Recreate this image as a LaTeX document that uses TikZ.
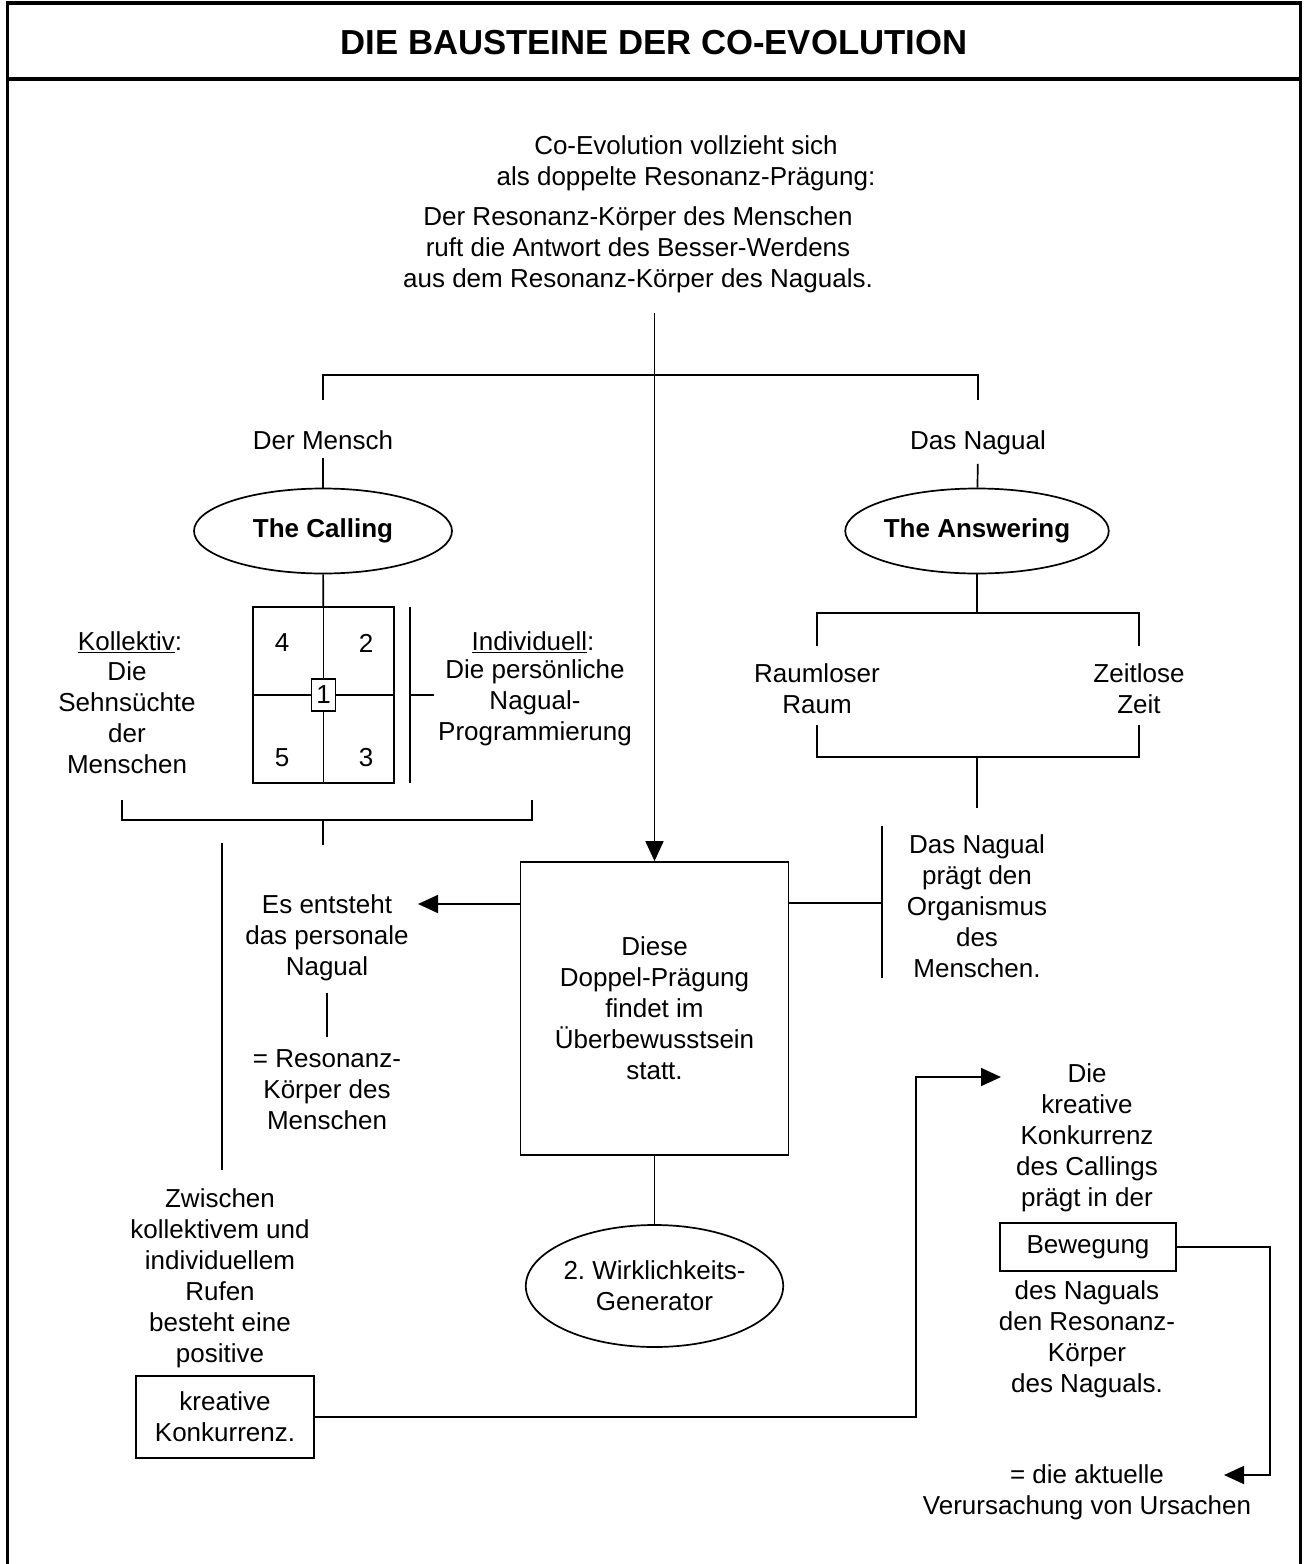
\documentclass[tikz,border=0pt]{standalone}
\usepackage{fontspec}
\setmainfont{Liberation Sans}
\usetikzlibrary{arrows.meta,shapes.geometric,calc}
\frenchspacing

\begin{document}
\begin{tikzpicture}[x=1pt,y=-1pt,line width=1.7pt,
  txt/.style={font=\fontsize{26}{31}\selectfont, align=center, inner sep=0pt},
  boldtxt/.style={font=\bfseries\fontsize{26}{31}\selectfont, align=center, inner sep=0pt},
  framed/.style={txt, draw},
  oval/.style={ellipse, draw, inner sep=0pt},
  arr/.style={-{Triangle[length=20pt,width=18pt]}},
  frameline/.style={line width=3.5pt}
  ]
\useasboundingbox (0,0) rectangle (1308,1564);

% outer frame and title bar
\draw[frameline] (7.7,1564) -- (7.7,3) -- (1300.5,3) -- (1300.5,1564);
\draw[frameline] (7.7,79) -- (1300.5,79);
\node[font=\bfseries\fontsize{34.7}{40}\selectfont, inner sep=0pt] (title) at (654,43) {DIE BAUSTEINE DER CO-EVOLUTION};

% introduction
\node[txt] (intro) at (686,163) {Co-Evolution vollzieht sich\\als doppelte Resonanz-Prägung:};
\node[txt] (resonanz) at (638,250) {Der Resonanz-Körper des Menschen\\ruft die Antwort des Besser-Werdens\\aus dem Resonanz-Körper des Naguals.};
\coordinate (stem) at (654.5,313);

% central box
\node[framed, minimum width=268pt, minimum height=293pt] (dbox) at (654.5,1008.5) {Diese\\Doppel-Prägung\\findet im\\Überbewusstsein\\statt.};
\draw[arr] (stem) -- (dbox.north);

% top bracket
\coordinate (tbL) at (323,400);
\coordinate (tbR) at (978,400);
\draw (tbL) -- ++(0,-25) -| (tbR);
\node[txt] (mensch) at (323,440) {Der Mensch};
\node[txt] (nagual) at (978,443) {Das Nagual};

% the calling
\node[oval, boldtxt, minimum width=258pt, minimum height=85pt] (calling) at (323,531) {The Calling};
\draw[shorten <=8pt] (mensch) -- (calling);

\node[draw, minimum width=141pt, minimum height=176pt, inner sep=0pt] (grid) at (323.5,695) {};
\draw (grid.north) -- (grid.south);
\draw (grid.west) -- (grid.east);
\node[framed, fill=white, minimum width=24pt, minimum height=32pt] (q1) at (grid.center) {1};
\node[txt] (q4) at (282,643) {4};
\node[txt] (q2) at (366,643) {2};
\node[txt] (q5) at (282,758) {5};
\node[txt] (q3) at (366,758) {3};
\draw (calling) -- (grid);

\node[txt] (koll) at (130,642) {\underline{Kollektiv}:};
\node[txt] (sehn) at (127,718) {Die\\Sehnsüchte\\der\\Menschen};
\node[txt] (indiv) at (533,642) {\underline{Individuell}:};
\node[txt] (prog) at (535,703) {Die persönliche\\Nagual-\\Programmierung};

\coordinate (barT) at (410,607);
\coordinate (barB) at (410,783);
\draw (barT) -- (barB);
\draw ($(barT)!0.5!(barB)$) -- ++(24,0);

% lower left bracket
\coordinate (lbL) at (122,800);
\coordinate (lbR) at (532,800);
\coordinate (lbM) at (323,820);
\draw (lbL) -- ++(0,20) -| (lbR);
\draw (lbM) -- ++(0,25);

% the answering
\node[oval, boldtxt, minimum width=256pt, minimum height=85pt] (answering) at (977,531) {The Answering};
\draw[shorten <=8pt] (nagual) -- (answering);
\coordinate (abar) at (977,613);
\draw (answering) -- (abar);
\coordinate (raumT) at (817,646);
\coordinate (zeitT) at (1139,646);
\draw (raumT) -- ++(0,-33) -| (zeitT);
\node[txt] (raum) at (817,689) {Raumloser\\Raum};
\node[txt] (zeit) at (1139,689) {Zeitlose\\Zeit};
\coordinate (raumB) at (817,725);
\coordinate (zeitB) at (1139,725);
\draw (raumB) -- ++(0,32) -| (zeitB);
\coordinate (rzM) at (977,757);
\draw (rzM) -- ++(0,51);

% the nagual shapes the organism
\coordinate (nbT) at (882,826);
\coordinate (nbB) at (882,978);
\coordinate (nbM) at (882,903);
\draw (nbT) -- (nbB);
\draw (nbM) -- (nbM -| dbox.east);
\node[txt] (organ) at (977,906) {Das Nagual\\prägt den\\Organismus\\des\\Menschen.};

% personal nagual
\coordinate (esTip) at (418,904);
\draw[arr] (esTip -| dbox.west) -- (esTip);
\node[txt] (es) at (327,938) {Es entsteht\\das personale\\Nagual};
\node[txt] (eq) at (327,1090) {= Resonanz-\\Körper des\\Menschen};
\draw[shorten <=11pt, shorten >=12pt] (es.south) -- (eq.north);

% reality generator
\node[oval, txt, minimum width=244pt, minimum height=122pt] (gen) at (654.5,1286) {2. Wirklichkeits-\\Generator};
\draw (dbox) -- (gen);

% creative competition
\coordinate (llT) at (222,843);
\coordinate (llB) at (222,1170);
\draw (llT) -- (llB);
\node[txt] (zw) at (220,1278) {Zwischen\\kollektivem und\\individuellem\\Rufen\\besteht eine\\positive};
\node[framed, minimum width=178pt, minimum height=82pt] (kk) at (225,1417) {kreative\\Konkurrenz.};

\coordinate (kkTurn) at (916,1077);
\coordinate (dkTip) at (1001,1077);
\draw[arr] (kk.east) -| (kkTurn) -- (dkTip);
\node[txt] (dk) at (1087,1138) {Die\\kreative\\Konkurrenz\\des Callings\\prägt in der};
\node[framed, minimum width=176pt, minimum height=48pt] (bew) at (1088,1247) {Bewegung};
\node[txt] (dn) at (1087,1339) {des Naguals\\den Resonanz-\\Körper\\des Naguals.};

\coordinate (bewTurn) at (1270,1475);
\coordinate (urTip) at (1224,1475);
\draw[arr] (bew.east) -| (bewTurn) -- (urTip);
\node[txt] (ursache) at (1087,1492) {= die aktuelle\\Verursachung von Ursachen};
\end{tikzpicture}
\end{document}
